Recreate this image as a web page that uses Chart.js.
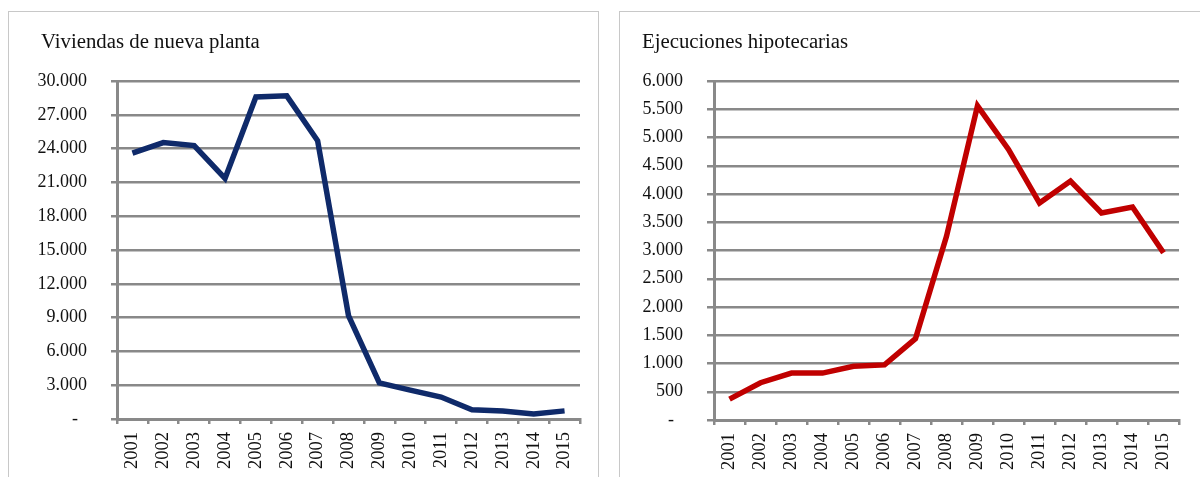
<!DOCTYPE html>
<html>
<head>
<meta charset="utf-8">
<script src="https://cdn.jsdelivr.net/npm/chart.js@4.4.1/dist/chart.umd.min.js"></script>
<style>
  html, body { margin: 0; padding: 0; background: #ffffff; width: 1200px; height: 477px; overflow: hidden; }
  .panel { position: absolute; border: 1px solid #c8c8c8; box-sizing: border-box; background: #fff; }
  canvas { position: absolute; }
  .title { position: absolute; font-family: 'Liberation Serif', 'Times New Roman', serif; font-size: 20.8px; color: #111; white-space: nowrap; line-height: 1; }
</style>
</head>
<body>
<div class="panel" style="left:8px; top:11px; width:591px; height:480px;"></div>
<div class="panel" style="left:619px; top:11px; width:600px; height:480px;"></div>
<canvas id="c1" style="left:9px; top:12px; width:588px; height:465px;" width="588" height="465"></canvas>
<canvas id="c2" style="left:620px; top:12px; width:580px; height:465px;" width="580" height="465"></canvas>
<div class="title" id="t1" style="left:41px; top:31px;"></div>
<div class="title" id="t2" style="left:642px; top:31px;"></div>
<script>
const years = ["2001","2002","2003","2004","2005","2006","2007","2008","2009","2010","2011","2012","2013","2014","2015"];
const viviendasTitle = "Viviendas de nueva planta";
const viviendas = [23600, 24530, 24270, 21350, 28580, 28680, 24700, 9180, 3200, 2560, 1950, 820, 700, 450, 720];
const viviendasTicks = { min: 0, max: 30000, step: 3000 };
const ejecucionesTitle = "Ejecuciones hipotecarias";
const ejecuciones = [370, 660, 830, 830, 950, 975, 1440, 3250, 5560, 4790, 3840, 4230, 3665, 3770, 2960];
const ejecucionesTicks = { min: 0, max: 6000, step: 500 };

document.getElementById('t1').textContent = viviendasTitle;
document.getElementById('t2').textContent = ejecucionesTitle;

const SERIF = "'Liberation Serif', 'Times New Roman', serif";
const GRID = "#898989";

function fmt(v) {
  if (v === 0) return "-  ";
  return String(v).replace(/\B(?=(\d{3})+(?!\d))/g, ".");
}

function makeChart(id, data, ticks, color, geo) {
  new Chart(document.getElementById(id), {
    type: 'line',
    data: {
      labels: years,
      datasets: [{
        data: data,
        borderColor: color,
        backgroundColor: color,
        borderWidth: 5.5,
        pointRadius: 0,
        tension: 0,
        borderJoinStyle: 'miter',
        borderCapStyle: 'butt'
      }]
    },
    options: {
      responsive: false,
      animation: false,
      devicePixelRatio: 1,
      layout: { padding: { left: 0, right: geo.padRight, top: geo.padTop, bottom: 0 } },
      plugins: {
        legend: { display: false },
        tooltip: { enabled: false },
        title: { display: false }
      },
      scales: {
        x: {
          offset: true,
          grid: { display: true, offset: true, drawOnChartArea: false, drawTicks: true, tickLength: 5, color: GRID, lineWidth: 2.5 },
          border: { display: true, color: GRID, width: 3 },
          ticks: {
            color: '#111111',
            font: { family: SERIF, size: 18.5 },
            maxRotation: 90, minRotation: 90,
            padding: 8,
            autoSkip: false
          },
          afterFit: (s) => { s.height = geo.xHeight; }
        },
        y: {
          min: ticks.min, max: ticks.max,
          grid: { color: GRID, lineWidth: 2.5, tickLength: geo.yTick, drawTicks: true },
          border: { display: true, color: GRID, width: 3 },
          ticks: {
            stepSize: ticks.step,
            color: '#111111',
            font: { family: SERIF, size: 18 },
            padding: 24,
            callback: (v) => fmt(v)
          },
          afterFit: (s) => { s.width = geo.yWidth; }
        }
      }
    }
  });
}

makeChart('c1', viviendas, viviendasTicks, '#0f2a6a',
  { padTop: 69, padRight: 17, yWidth: 108, xHeight: 58, yTick: 6 });
makeChart('c2', ejecuciones, ejecucionesTicks, '#c00000',
  { padTop: 69, padRight: 21, yWidth: 94, xHeight: 57, yTick: 7 });
</script>
</body>
</html>
